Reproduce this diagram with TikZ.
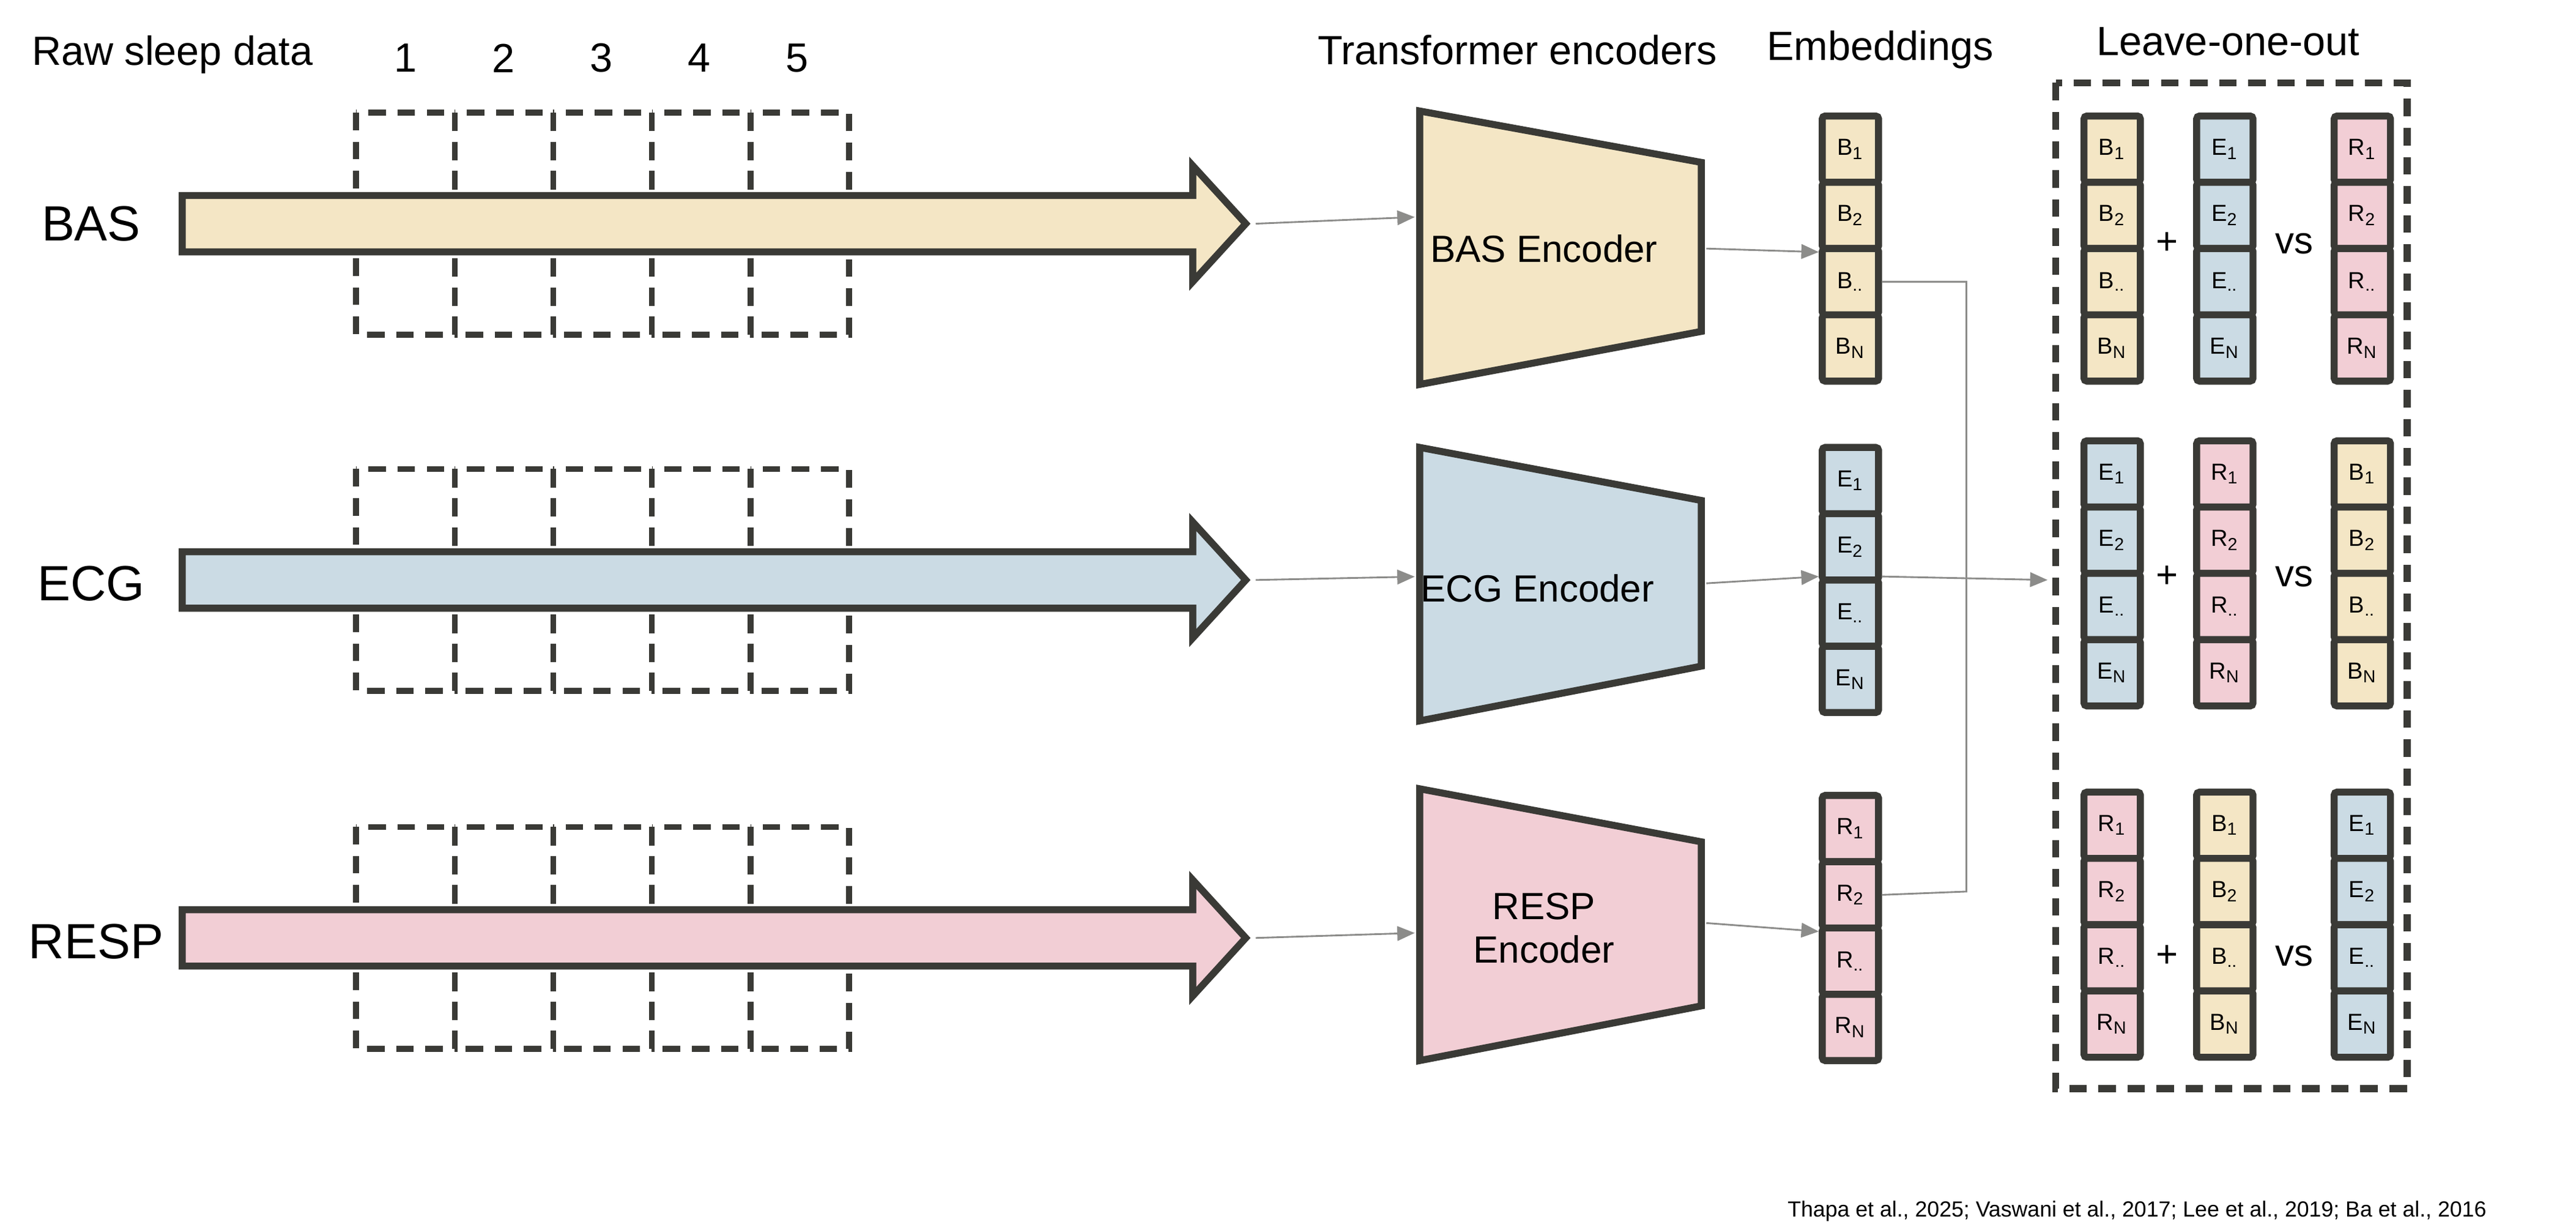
\documentclass[tikz,border=0pt]{standalone}
\usepackage{fontspec}
\setmainfont{Liberation Sans}
\usetikzlibrary{arrows.meta}
\definecolor{basfill}{HTML}{F4E6C5}
\definecolor{ecgfill}{HTML}{CBDBE4}
\definecolor{respfill}{HTML}{F2CED5}
\definecolor{edge}{HTML}{3A3A36}
\definecolor{link}{HTML}{8C8C8A}
\tikzset{
  cell/.style={draw=edge,line width=2.4pt,rounded corners=1pt,minimum width=0.68cm,minimum height=0.8cm,inner sep=0pt,font=\fontsize{8}{8}\selectfont},
  window/.style={draw=edge,line width=2pt,dash pattern=on 6pt off 4pt},
  signal/.style={draw=edge,line width=2.4pt,line join=miter},
  encoder/.style={draw=edge,line width=2.4pt},
  link/.style={draw=link,line width=0.6pt,-{Triangle[length=6pt,width=5pt]}},
  wire/.style={draw=link,line width=0.6pt},
  head/.style={font=\fontsize{14}{14}\selectfont},
  chan/.style={font=\fontsize{17}{17}\selectfont},
  op/.style={font=\fontsize{13}{15}\selectfont}
}
% one embedding column: name, x, top y, fill, letter
\newcommand\embcol[5]{%
  \foreach \i/\s in {1/1,2/2,3/..,4/N}
    \node[cell,fill=#4] (#1\i) at ({#2},{#3+20+40*(\i-1)}) {#5\textsubscript{\s}};
}
% one raw signal row: name, centre y, fill
\newcommand\sigrow[3]{%
  \foreach \k in {0,...,4}
    \draw[window] ({215+59.5*\k},{#2-67}) rectangle ({215+59.5*(\k+1)},{#2+67});
  \draw[signal,fill=#3] (110,{#2-17}) -- (720,{#2-17}) -- (720,{#2-35}) -- (752,#2)
    -- (720,{#2+35}) -- (720,{#2+17}) -- (110,{#2+17}) -- cycle;
  \coordinate (#1tip) at (758,#2);
}
\begin{document}
\begin{tikzpicture}[x=0.2mm,y=-0.2mm]
\useasboundingbox (0,0) rectangle (1555,742);

% titles
\node[head] (rawt) at (104,33) {Raw sleep data};
\foreach \n [count=\k from 0] in {1,...,5}
  \node[head] (num\n) at ({245+59*\k},35) {\n};
\node[head] (enct) at (916,30) {Transformer encoders};
\node[head] (embt) at (1135,30) {Embeddings};
\node[head] (loot) at (1345,25) {Leave-one-out};

% raw signals
\sigrow{bas}{135}{basfill}
\sigrow{ecg}{350}{ecgfill}
\sigrow{resp}{566}{respfill}
\node[chan] (basl) at (55,135) {BAS};
\node[chan] (ecgl) at (55,352) {ECG};
\node[chan] (respl) at (58,568) {RESP};

% encoders
\draw[encoder,fill=basfill] (857,67) -- (1027,98) -- (1027,200) -- (857,232) -- cycle;
\draw[encoder,fill=ecgfill] (857,270) -- (1027,302) -- (1027,402) -- (857,435) -- cycle;
\draw[encoder,fill=respfill] (857,476) -- (1027,508) -- (1027,607) -- (857,640) -- cycle;
\node[op] (basenc) at (932,150) {BAS Encoder};
\node[op] (ecgenc) at (928,355) {ECG Encoder};
\node[op,align=center] (respenc) at (932,560) {RESP\\Encoder};
\coordinate (basin) at (854,131);
\coordinate (ecgin) at (854,348);
\coordinate (respin) at (854,563);
\coordinate (basout) at (1030,150);
\coordinate (ecgout) at (1030,352);
\coordinate (respout) at (1030,557);

% embeddings
\embcol{eb}{1117}{70}{basfill}{B}
\embcol{ee}{1117}{270}{ecgfill}{E}
\embcol{er}{1117}{480}{respfill}{R}

% connectors
\draw[link] (bastip) -- (basin);
\draw[link] (ecgtip) -- (ecgin);
\draw[link] (resptip) -- (respin);
\draw[link] (basout) -- (eb2.south west);
\draw[link] (ecgout) -- (ee3.north west);
\draw[link] (respout) -- (er2.south west);
\coordinate (loin) at (1236,350);
\draw[wire] (eb3.east) -| (1187,538) -- (er2.east);
\draw[link] (ee3.north east) -- (loin);

% leave-one-out
\draw[window,line width=2.4pt] (1241,50) rectangle (1453,657);
\embcol{ga}{1275}{70}{basfill}{B}
\embcol{gb}{1343}{70}{ecgfill}{E}
\embcol{gc}{1426}{70}{respfill}{R}
\embcol{ha}{1275}{266}{ecgfill}{E}
\embcol{hb}{1343}{266}{respfill}{R}
\embcol{hc}{1426}{266}{basfill}{B}
\embcol{ia}{1275}{478}{respfill}{R}
\embcol{ib}{1343}{478}{basfill}{B}
\embcol{ic}{1426}{478}{ecgfill}{E}
\foreach \g/\y in {g/147,h/348,i/577} {
  \node[op] (\g plus) at (1308,\y) {+};
  \node[op] (\g vs) at (1385,\y) {vs};
}

\node[font=\fontsize{7.5}{7.5}\selectfont] (cite) at (1290,731)
  {Thapa et al., 2025; Vaswani et al., 2017; Lee et al., 2019; Ba et al., 2016};
\end{tikzpicture}
\end{document}
